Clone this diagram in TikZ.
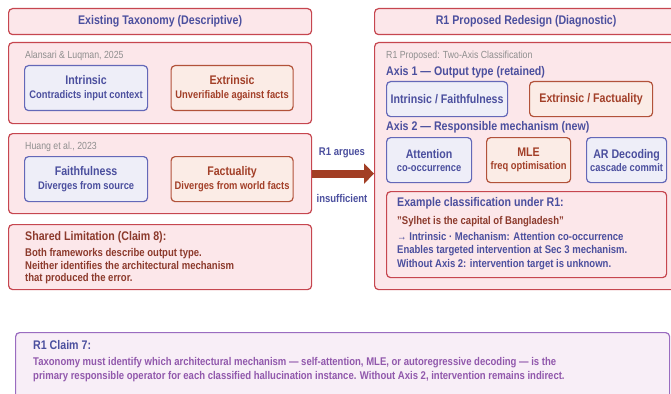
\documentclass[tikz,border=0pt]{standalone}
\usepackage{fontspec}
\setmainfont{Liberation Sans}[FakeStretch=0.85]
\usetikzlibrary{arrows.meta}

\definecolor{pinkbg}{HTML}{FCE7EA}
\definecolor{redline}{HTML}{C6464F}
\definecolor{bluetxt}{HTML}{4B4F9E}
\definecolor{blueline}{HTML}{6468B8}
\definecolor{bluebg}{HTML}{EEEEF8}
\definecolor{brownline}{HTML}{B2523A}
\definecolor{browntxt}{HTML}{A23F28}
\definecolor{brownbg}{HTML}{FBECE6}
\definecolor{darkred}{HTML}{8C3A2C}
\definecolor{graytxt}{HTML}{8E8E8E}
\definecolor{purpline}{HTML}{9A6CC0}
\definecolor{purpbg}{HTML}{F8EEF7}
\definecolor{purptxt}{HTML}{9158AC}
\definecolor{arrowred}{HTML}{A23E24}

\newcommand{\headfont}{\fontsize{12.5}{14}\selectfont\bfseries}
\newcommand{\subfont}{\fontsize{11.2}{13}\selectfont\bfseries}
\newcommand{\boxhead}[1]{{\fontsize{12.5}{14}\selectfont #1}}

\begin{document}
\begin{tikzpicture}[x=1pt,y=-1pt,
  panel/.style={draw=redline,fill=pinkbg,line width=1.2pt,rounded corners=4pt,
    anchor=north west,inner sep=0pt},
  bluebox/.style={draw=blueline,fill=bluebg,line width=1.2pt,rounded corners=4pt,
    anchor=north west,inner sep=0pt,align=center,text=bluetxt},
  brownbox/.style={draw=brownline,fill=brownbg,line width=1.2pt,rounded corners=4pt,
    anchor=north west,inner sep=0pt,align=center,text=browntxt},
  reftxt/.style={anchor=base west,inner sep=0pt,text=graytxt,font=\fontsize{10.3}{12}\selectfont},
  linetxt/.style={anchor=base west,inner sep=0pt,font=\subfont},
  argtxt/.style={inner sep=0pt,text=bluetxt,font=\subfont}]
 \useasboundingbox (0,0) rectangle (671,393);
 \clip (0,0) rectangle (671,393);

 % existing taxonomy
 \node[panel,minimum width=303pt,minimum height=26pt,text=bluetxt,font=\headfont] (lhead) at (8,8) {Existing Taxonomy (Descriptive)};
 \node[panel,minimum width=303pt,minimum height=81pt] (alansari) at (8,42) {};
 \node[reftxt] (refa) at (25,58.6) {Alansari \& Luqman, 2025};
 \node[bluebox,minimum width=123pt,minimum height=45pt,font={\fontsize{11}{14.5}\selectfont\bfseries}] (intr) at (24,65) {\boxhead{Intrinsic}\\Contradicts input context};
 \node[brownbox,minimum width=122pt,minimum height=45pt,font={\fontsize{11}{14.5}\selectfont\bfseries}] (extr) at (170.5,65) {\boxhead{Extrinsic}\\Unverifiable against facts};

 \node[panel,minimum width=303pt,minimum height=80pt] (huang) at (8,133) {};
 \node[reftxt] (refb) at (25,149.6) {Huang et al., 2023};
 \node[bluebox,minimum width=123pt,minimum height=45pt,font={\fontsize{11}{14.5}\selectfont\bfseries}] (faith) at (24,156) {\boxhead{Faithfulness}\\Diverges from source};
 \node[brownbox,minimum width=122pt,minimum height=45pt,font={\fontsize{11}{14.5}\selectfont\bfseries}] (fact) at (170.5,156) {\boxhead{Factuality}\\Diverges from world facts};

 \node[panel,minimum width=303pt,minimum height=65pt] (limit) at (8,224) {};
 \node[linetxt,text=darkred,font=\headfont] (limhead) at (25,240.7) {Shared Limitation (Claim 8):};
 \node[linetxt,text=darkred] (lim1) at (25,256.5) {Both frameworks describe output type.};
 \node[linetxt,text=darkred] (lim2) at (25,269) {Neither identifies the architectural mechanism};
 \node[linetxt,text=darkred] (lim3) at (25,281.5) {that produced the error.};

 % proposed redesign
 \node[panel,minimum width=303pt,minimum height=26pt,text=bluetxt,font=\headfont] (rhead) at (374,8) {R1 Proposed Redesign (Diagnostic)};
 \node[panel,minimum width=303pt,minimum height=247pt] (redesign) at (374,42) {};
 \node[reftxt] (refr) at (386,58.6) {R1 Proposed: Two-Axis Classification};
 \node[linetxt,text=bluetxt,font=\headfont] (axisa) at (386,76) {Axis 1 — Output type (retained)};
 \node[bluebox,minimum width=121pt,minimum height=35pt,font=\headfont] (intfaith) at (386,81) {Intrinsic / Faithfulness};
 \node[brownbox,minimum width=123pt,minimum height=35pt,font=\headfont] (extfact) at (529,81) {Extrinsic / Factuality};
 \node[linetxt,text=bluetxt,font=\headfont] (axisb) at (386,130.5) {Axis 2 — Responsible mechanism (new)};
 \node[bluebox,minimum width=85pt,minimum height=45pt,font={\fontsize{11}{13}\selectfont\bfseries}] (attn) at (386,137) {\boxhead{Attention}\\co-occurrence};
 \node[brownbox,minimum width=84pt,minimum height=45pt,font={\fontsize{11}{13}\selectfont\bfseries}] (mle) at (486,137) {\boxhead{MLE}\\freq optimisation};
 \node[bluebox,minimum width=80pt,minimum height=45pt,font={\fontsize{11}{13}\selectfont\bfseries}] (ardec) at (586,137) {\boxhead{AR Decoding}\\cascade commit};

 \node[panel,minimum width=280pt,minimum height=86pt] (example) at (386,191) {};
 \node[linetxt,text=bluetxt,font=\headfont] (exhead) at (397,206.5) {Example classification under R1:};
 \node[linetxt,text=darkred] (ex1) at (397,224) {"Sylhet is the capital of Bangladesh"};
 \node[linetxt,text=bluetxt] (ex2) at (397,240) {→ Intrinsic · Mechanism: Attention co-occurrence};
 \node[linetxt,text=bluetxt] (ex3) at (397,253.5) {Enables targeted intervention at Sec 3 mechanism.};
 \node[linetxt,text=bluetxt] (ex4) at (397,267.5) {Without Axis 2: intervention target is unknown.};

 % argument arrow
 \draw[arrowred,line width=8pt,-{Triangle[length=10pt,width=20pt]}] (huang.east) -- (huang.east -| redesign.west);
 \node[argtxt] (argues) at (342,153) {R1 argues};
 \node[argtxt] (insuff) at (342,198) {insufficient};

 % claim 7
 \node[draw=purpline,fill=purpbg,line width=1.2pt,rounded corners=4pt,anchor=north west,
   minimum width=654pt,minimum height=70pt] (claim) at (15,332) {};
 \node[linetxt,text=bluetxt,font=\headfont] (claimhead) at (33,349) {R1 Claim 7:};
 \node[linetxt,text=purptxt,font={\fontsize{11.2}{13}\selectfont\bfseries}] (claim1) at (33,365.5) {Taxonomy must identify which architectural mechanism — self-attention, MLE, or autoregressive decoding — is the};
 \node[linetxt,text=purptxt,font={\fontsize{11.2}{13}\selectfont\bfseries}] (claim2) at (33,379) {primary responsible operator for each classified hallucination instance. Without Axis 2, intervention remains indirect.};
\end{tikzpicture}
\end{document}
